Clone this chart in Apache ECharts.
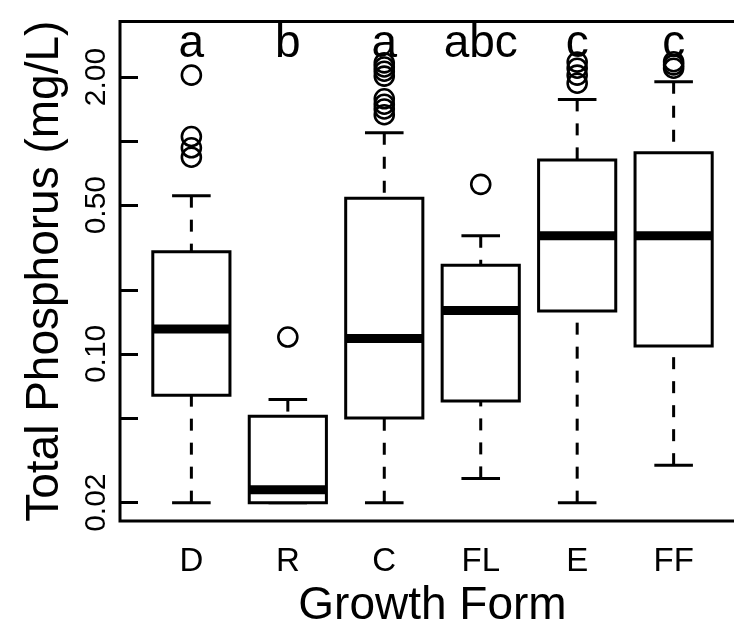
<!DOCTYPE html>
<html>
<head>
<meta charset="utf-8">
<script src="https://cdn.jsdelivr.net/npm/echarts@6/dist/echarts.min.js"></script>
<style>
  html, body { margin: 0; padding: 0; background: #fff; }
  #chart { width: 734px; height: 632px; }
</style>
</head>
<body>
<div id="chart"></div>
<script>
// Total phosphorus by growth form (log scale boxplots)
const categories = ['D', 'R', 'C', 'FL', 'E', 'FF'];
const whiskerLow  = [0.020, 0.020, 0.020, 0.026, 0.020, 0.030];
const quartile1   = [0.064, 0.020, 0.050, 0.060, 0.159, 0.109];
const medians     = [0.131, 0.023, 0.118, 0.160, 0.359, 0.359];
const quartile3   = [0.302, 0.051, 0.538, 0.261, 0.815, 0.882];
const whiskerHigh = [0.554, 0.061, 1.095, 0.359, 1.570, 1.900];
const outliers = [
  [2.04, 1.05, 0.93, 0.84],
  [0.12],
  [2.33, 2.23, 2.13, 2.02, 1.58, 1.49, 1.415, 1.33],
  [0.626],
  [2.35, 2.20, 2.04, 1.87],
  [2.36, 2.28, 2.20]
];
const groupLetters = ['a', 'b', 'a', 'abc', 'c', 'c'];
const yTickValues  = [0.02, 0.05, 0.1, 0.2, 0.5, 1, 2];
const yLabelValues = [0.02, 0.1, 0.5, 2];

const FONT = '"Liberation Sans", Arial, Helvetica, sans-serif';
const LETTER_LEVEL = 2.85;    // y value where the group letters sit
const BOX_HALF = 0.4;         // half box width in x units
const CAP_HALF = 0.2;         // half whisker-cap width in x units

const boxData = categories.map((c, i) => [
  i + 1, whiskerLow[i], quartile1[i], medians[i], quartile3[i], whiskerHigh[i]
]);

const outlierData = [];
outliers.forEach((list, i) => list.forEach(v => outlierData.push([i + 1, v])));

const letterData = groupLetters.map((t, i) => ({ value: [i + 1, LETTER_LEVEL], name: t }));

function renderBox(params, api) {
  const x = api.value(0);
  const lo = api.value(1), q1 = api.value(2), md = api.value(3), q3 = api.value(4), hi = api.value(5);
  const pL = api.coord([x - BOX_HALF, q3]);
  const pR = api.coord([x + BOX_HALF, q1]);
  const cx = api.coord([x, md])[0];
  const capL = api.coord([x - CAP_HALF, lo])[0];
  const capR = api.coord([x + CAP_HALF, lo])[0];
  const yLo = api.coord([x, lo])[1];
  const yHi = api.coord([x, hi])[1];
  const yQ1 = pR[1], yQ3 = pL[1];
  const yMd = api.coord([x, md])[1];
  const stroke = { stroke: '#000', lineWidth: 3, fill: null };
  const dashed = { stroke: '#000', lineWidth: 3, lineDash: [12, 12] };
  return {
    type: 'group',
    children: [
      // whiskers drawn from the extreme toward the box
      { type: 'line', shape: { x1: cx, y1: yHi, x2: cx, y2: yQ3 }, style: dashed },
      { type: 'line', shape: { x1: cx, y1: yLo, x2: cx, y2: yQ1 }, style: dashed },
      { type: 'line', shape: { x1: capL, y1: yHi, x2: capR, y2: yHi }, style: stroke },
      { type: 'line', shape: { x1: capL, y1: yLo, x2: capR, y2: yLo }, style: stroke },
      { type: 'rect', shape: { x: pL[0], y: yQ3, width: pR[0] - pL[0], height: yQ1 - yQ3 },
        style: { stroke: '#000', lineWidth: 3, fill: '#fff' } },
      { type: 'line', shape: { x1: pL[0], y1: yMd, x2: pR[0], y2: yMd },
        style: { stroke: '#000', lineWidth: 9 } }
    ]
  };
}

const chart = echarts.init(document.getElementById('chart'), null, { renderer: 'canvas' });
chart.setOption({
  backgroundColor: '#fff',
  animation: false,
  textStyle: { fontFamily: FONT, color: '#000' },
  grid: {
    left: 120, top: 21.5, width: 625, height: 499.5,
    show: true, borderColor: '#000', borderWidth: 3, backgroundColor: 'transparent',
    containLabel: false, outerBoundsMode: 'none'
  },
  xAxis: {
    type: 'value', min: 0.26, max: 6.74,
    name: 'Growth Form', nameLocation: 'middle', nameGap: 62,
    nameTextStyle: { fontFamily: FONT, fontSize: 46, color: '#000' },
    axisLine: { show: false },
    axisTick: { show: false },
    splitLine: { show: false },
    axisLabel: {
      customValues: categories.map((c, i) => i + 1),
      formatter: v => categories[Math.round(v) - 1] || '',
      fontFamily: FONT, fontSize: 33, color: '#000', margin: 24
    }
  },
  yAxis: {
    type: 'log', logBase: 10, min: 0.0164, max: 3.646,
    name: 'Total Phosphorus (mg/L)', nameLocation: 'middle', nameRotate: 90, nameGap: 52,
    nameTextStyle: { fontFamily: FONT, fontSize: 46, color: '#000' },
    axisLine: { show: false },
    splitLine: { show: false },
    axisTick: {
      show: true, inside: true, length: 18,
      customValues: yTickValues,
      lineStyle: { color: '#000', width: 3 }
    },
    axisLabel: {
      customValues: yLabelValues,
      formatter: v => Number(v).toFixed(2),
      rotate: 90, fontFamily: FONT, fontSize: 30, color: '#000', margin: 8
    }
  },
  series: [
    {
      type: 'scatter',
      data: letterData,
      symbolSize: 0,
      itemStyle: { opacity: 1 },
      label: {
        show: true, position: 'inside',
        formatter: p => p.name,
        fontFamily: FONT, fontSize: 46, color: '#000',
        textBorderWidth: 0, textBorderColor: 'transparent'
      },
      z: 1
    },
    {
      type: 'custom',
      renderItem: renderBox,
      data: boxData,
      encode: { x: 0, y: [1, 2, 3, 4, 5] },
      z: 2
    },
    {
      type: 'scatter',
      data: outlierData,
      symbol: 'circle',
      symbolSize: 19,
      itemStyle: { color: 'rgba(0,0,0,0)', borderColor: '#000', borderWidth: 2.6, opacity: 1 },
      z: 3
    }
  ]
});
</script>
</body>
</html>
